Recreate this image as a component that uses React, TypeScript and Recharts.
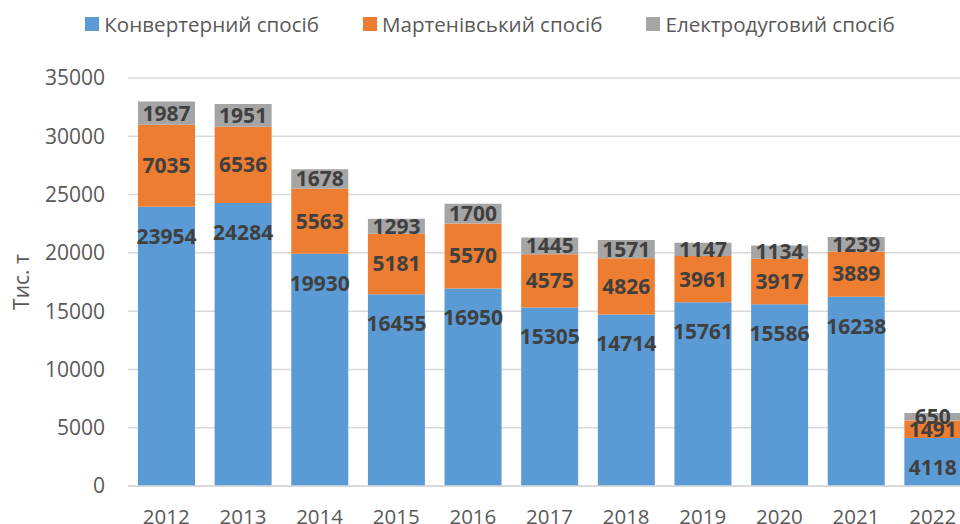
import React from "react";
import {
  BarChart,
  Bar,
  XAxis,
  YAxis,
  CartesianGrid,
  Legend,
  LabelList,
} from "recharts";

const years = ["2012", "2013", "2014", "2015", "2016", "2017", "2018", "2019", "2020", "2021", "2022"];
const converter = [23954, 24284, 19930, 16455, 16950, 15305, 14714, 15761, 15586, 16238, 4118];
const openHearth = [7035, 6536, 5563, 5181, 5570, 4575, 4826, 3961, 3917, 3889, 1491];
const electricArc = [1987, 1951, 1678, 1293, 1700, 1445, 1571, 1147, 1134, 1239, 650];
const yTicks = [0, 5000, 10000, 15000, 20000, 25000, 30000, 35000];

const seriesNames = ["Конвертерний спосіб", "Мартенівський спосіб", "Електродуговий спосіб"];
const COLORS = ["#5B9BD5", "#ED7D31", "#A5A5A5"];

const data = years.map((year, i) => ({
  year,
  converter: converter[i],
  openHearth: openHearth[i],
  electricArc: electricArc[i],
}));

const FONT = "'Open Sans', sans-serif";

const labelStyle = {
  fill: "#404040",
  fontSize: 21,
  fontWeight: 700,
  fontFamily: FONT,
};

const renderLegend = () => (
  <div
    style={{
      display: "flex",
      justifyContent: "center",
      gap: "44px",
      fontFamily: FONT,
      fontSize: "20.6px",
      color: "#595959",
    }}
  >
    {seriesNames.map((name, i) => (
      <div key={name} style={{ display: "flex", alignItems: "center", gap: "5px" }}>
        <span style={{ width: 14, height: 14, background: COLORS[i], display: "inline-block" }} />
        <span>{name}</span>
      </div>
    ))}
  </div>
);

export default function App() {
  return (
    <div
      style={{
        position: "fixed",
        left: 0,
        top: 0,
        width: "960px",
        height: "524px",
        overflow: "hidden",
        background: "#fff",
      }}
    >
      <BarChart
        width={980}
        height={524}
        data={data}
        margin={{ top: 78, right: 9, bottom: 8, left: 0 }}
        barSize={57}
      >
        <CartesianGrid vertical={false} stroke="#D9D9D9" strokeWidth={1.5} />
        <XAxis
          dataKey="year"
          axisLine={{ stroke: "#D9D9D9", strokeWidth: 1.5 }}
          tickLine={false}
          tickMargin={17}
          height={30}
          tick={{ fill: "#595959", fontSize: 20.5, fontFamily: FONT }}
        />
        <YAxis
          width={128}
          domain={[0, 35000]}
          ticks={yTicks}
          axisLine={false}
          tickLine={false}
          tickMargin={17}
          tick={{ fill: "#595959", fontSize: 21, fontFamily: FONT }}
          label={{
            value: "Тис. т",
            angle: -90,
            position: "insideLeft",
            offset: 22,
            style: { textAnchor: "middle", fill: "#595959", fontSize: 21, fontFamily: FONT },
          }}
        />
        <Legend
          verticalAlign="middle"
          layout="horizontal"
          content={renderLegend}
          wrapperStyle={{ top: 10, left: 0, width: 980 }}
        />
        <Bar dataKey="converter" name={seriesNames[0]} stackId="a" fill={COLORS[0]} isAnimationActive={false}>
          <LabelList dataKey="converter" position="insideTop" offset={22} style={labelStyle} />
        </Bar>
        <Bar dataKey="openHearth" name={seriesNames[1]} stackId="a" fill={COLORS[1]} isAnimationActive={false}>
          <LabelList dataKey="openHearth" position="center" style={labelStyle} />
        </Bar>
        <Bar dataKey="electricArc" name={seriesNames[2]} stackId="a" fill={COLORS[2]} isAnimationActive={false}>
          <LabelList dataKey="electricArc" position="center" style={labelStyle} />
        </Bar>
      </BarChart>
    </div>
  );
}
